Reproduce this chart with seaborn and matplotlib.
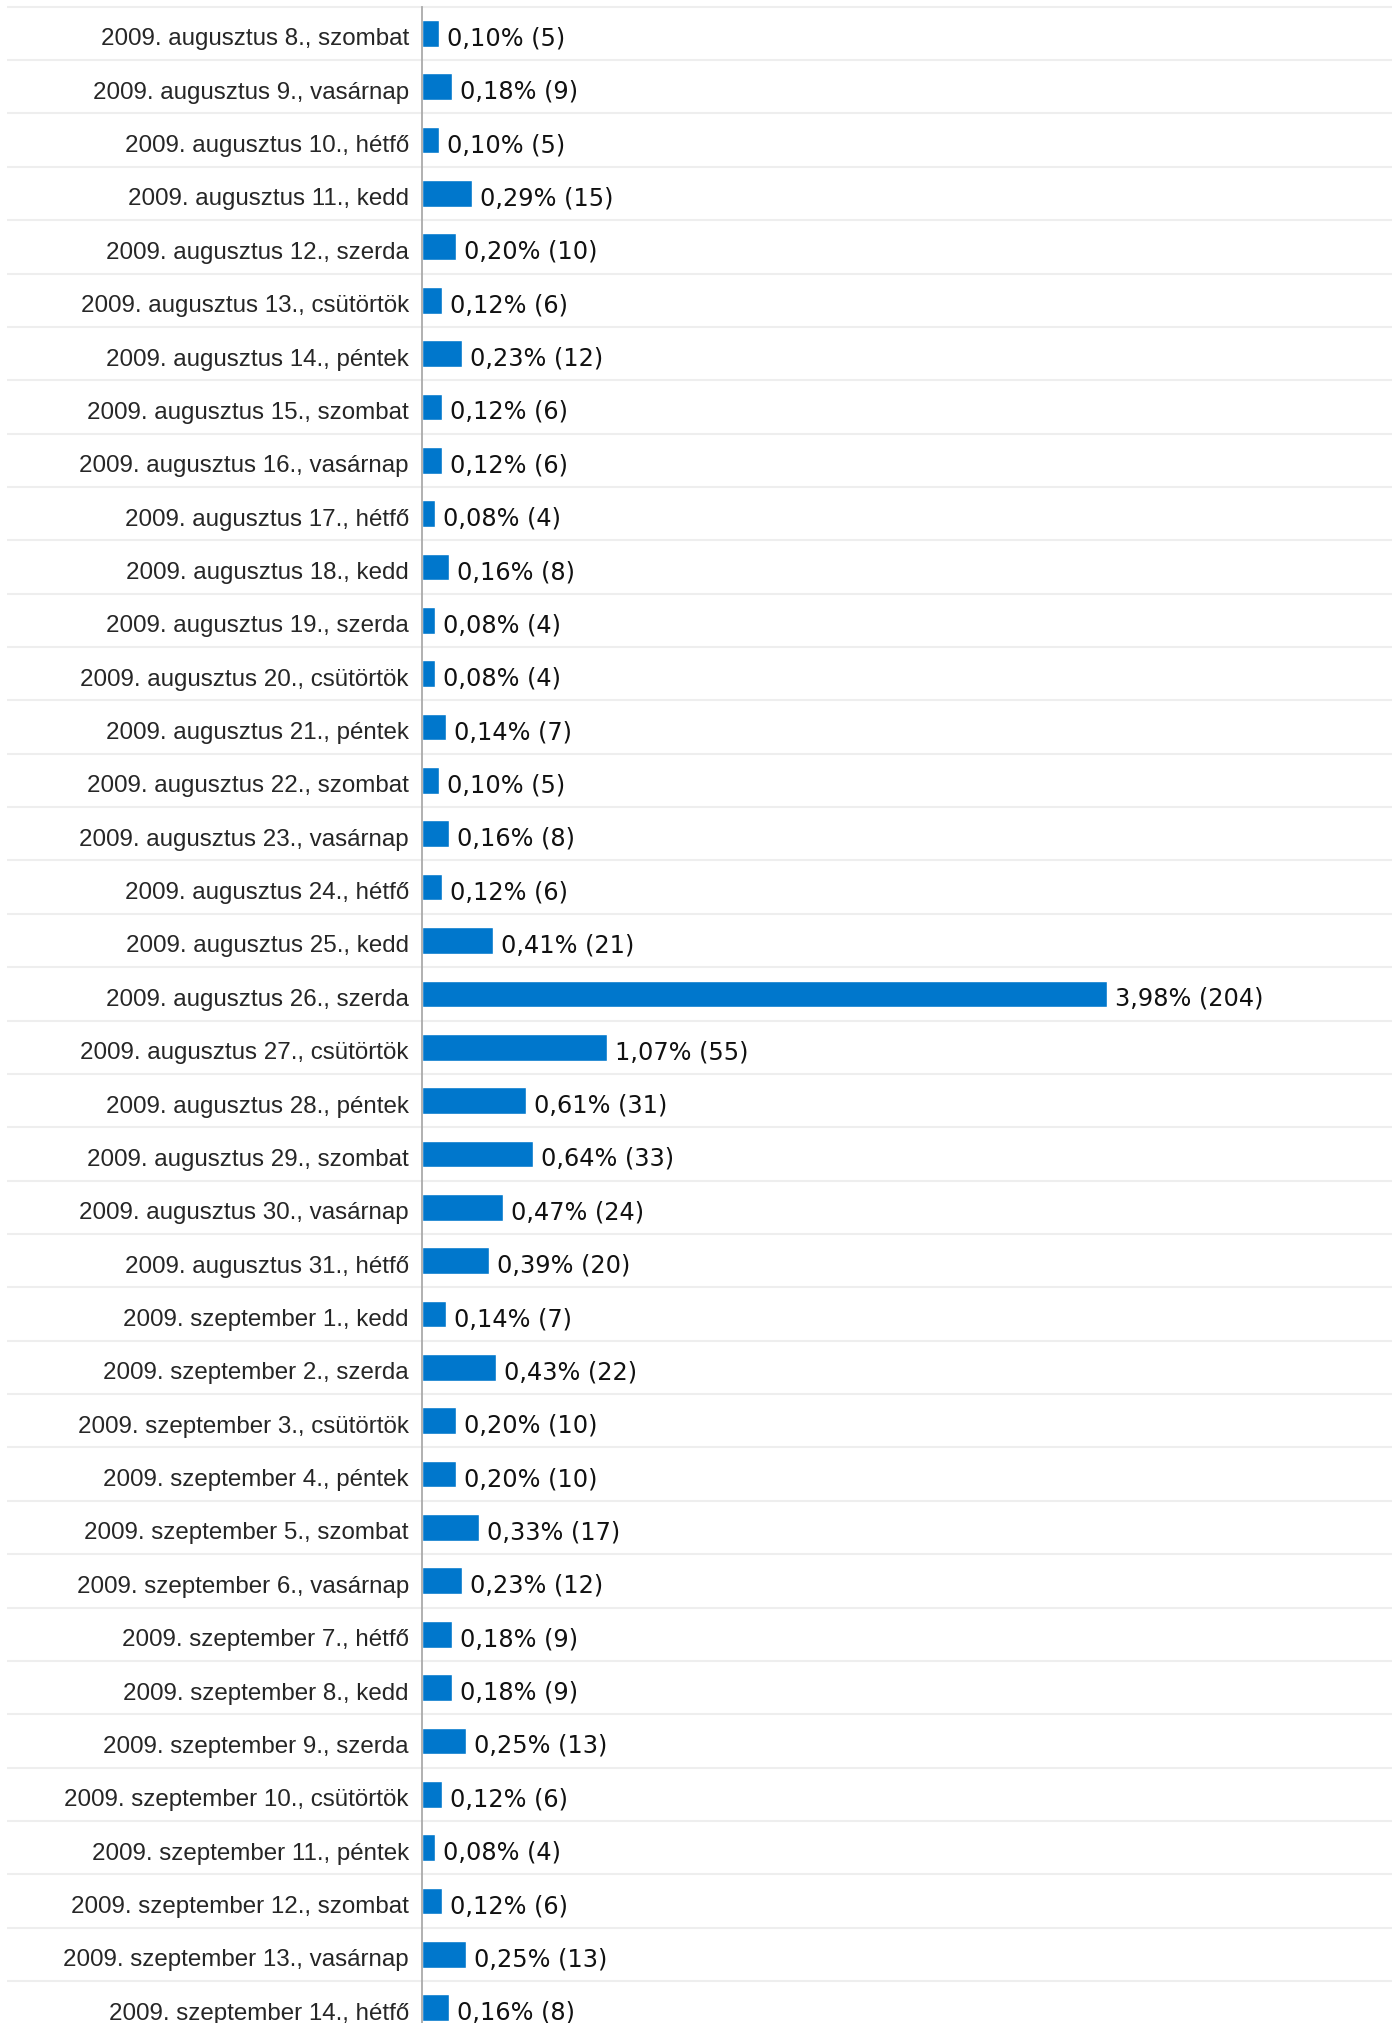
import matplotlib
matplotlib.use('Agg')
import matplotlib.pyplot as plt
import matplotlib.transforms as mtransforms
import seaborn as sns
import pandas as pd

labels = [
    '2009. augusztus 8., szombat',
    '2009. augusztus 9., vasárnap',
    '2009. augusztus 10., hétfő',
    '2009. augusztus 11., kedd',
    '2009. augusztus 12., szerda',
    '2009. augusztus 13., csütörtök',
    '2009. augusztus 14., péntek',
    '2009. augusztus 15., szombat',
    '2009. augusztus 16., vasárnap',
    '2009. augusztus 17., hétfő',
    '2009. augusztus 18., kedd',
    '2009. augusztus 19., szerda',
    '2009. augusztus 20., csütörtök',
    '2009. augusztus 21., péntek',
    '2009. augusztus 22., szombat',
    '2009. augusztus 23., vasárnap',
    '2009. augusztus 24., hétfő',
    '2009. augusztus 25., kedd',
    '2009. augusztus 26., szerda',
    '2009. augusztus 27., csütörtök',
    '2009. augusztus 28., péntek',
    '2009. augusztus 29., szombat',
    '2009. augusztus 30., vasárnap',
    '2009. augusztus 31., hétfő',
    '2009. szeptember 1., kedd',
    '2009. szeptember 2., szerda',
    '2009. szeptember 3., csütörtök',
    '2009. szeptember 4., péntek',
    '2009. szeptember 5., szombat',
    '2009. szeptember 6., vasárnap',
    '2009. szeptember 7., hétfő',
    '2009. szeptember 8., kedd',
    '2009. szeptember 9., szerda',
    '2009. szeptember 10., csütörtök',
    '2009. szeptember 11., péntek',
    '2009. szeptember 12., szombat',
    '2009. szeptember 13., vasárnap',
    '2009. szeptember 14., hétfő',
]
counts = [5, 9, 5, 15, 10, 6, 12, 6, 6, 4, 8, 4, 4, 7, 5, 8, 6, 21, 204, 55,
          31, 33, 24, 20, 7, 22, 10, 10, 17, 12, 9, 9, 13, 6, 4, 6, 13, 8]
percents = ['0,10', '0,18', '0,10', '0,29', '0,20', '0,12', '0,23', '0,12',
            '0,12', '0,08', '0,16', '0,08', '0,08', '0,14', '0,10', '0,16',
            '0,12', '0,41', '3,98', '1,07', '0,61', '0,64', '0,47', '0,39',
            '0,14', '0,43', '0,20', '0,20', '0,33', '0,23', '0,18', '0,18',
            '0,25', '0,12', '0,08', '0,12', '0,25', '0,16']

df = pd.DataFrame({'nap': labels, 'db': counts})

sns.set_style('white')
plt.rcParams['font.family'] = ['Liberation Sans', 'DejaVu Sans']

W, H = 1393, 2024
fig = plt.figure(figsize=(W / 100, H / 100), dpi=100)
row = 53.36
top = 7.7
n = len(labels)
ax = fig.add_axes([422 / W, (H - top - n * row) / H, (1392 - 422) / W, n * row / H])

sns.barplot(data=df, x='db', y='nap', orient='h', color='#0077CC',
            width=0.5, saturation=1, ax=ax)

ax.set_xlim(0, 204 * 970 / 685)
ax.set_ylim(n - 0.5, -0.5)
ax.set_xlabel('')
ax.set_ylabel('')
ax.xaxis.set_visible(False)
ax.tick_params(axis='y', length=0, pad=9.5, labelsize=17.35)
shift = mtransforms.ScaledTranslation(0, -2.5 / 100, fig.dpi_scale_trans)
for lbl in ax.get_yticklabels():
    lbl.set_transform(lbl.get_transform() + shift)

for s in ['top', 'right', 'bottom']:
    ax.spines[s].set_visible(False)
ax.spines['left'].set_color('#aaaaaa')
ax.spines['left'].set_linewidth(1.3)
ax.spines['left'].set_zorder(5)

# separator lines across the whole width
bounds = [i - 0.5 for i in range(n + 1)]
ax.hlines(bounds, (7 - 422) / 970, 1.0, transform=ax.get_yaxis_transform(),
          color='#eeeeee', lw=1.5, clip_on=False, zorder=0)

for i, (p, c) in enumerate(zip(percents, counts)):
    ax.annotate(f'{p}% ({c})', (c, i), xytext=(5.8, -2.9),
                textcoords='offset points', va='center', ha='left',
                fontsize=17.3, family='DejaVu Sans', color='#111111')

fig.savefig('out.png', dpi=100)
